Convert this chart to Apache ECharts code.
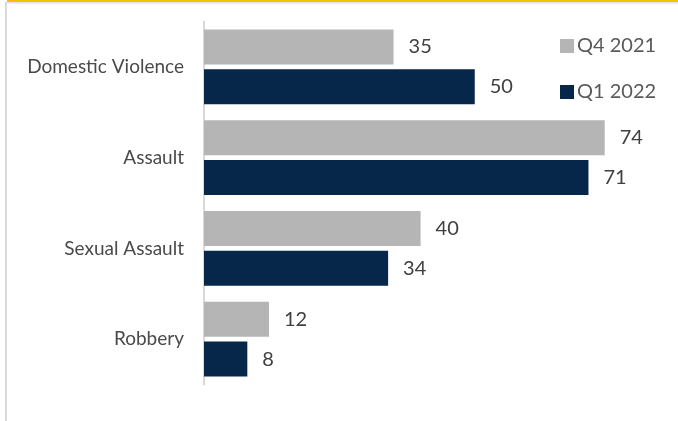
<!DOCTYPE html>
<html>
<head>
<meta charset="utf-8">
<script src="https://cdn.jsdelivr.net/npm/echarts@6/dist/echarts.min.js"></script>
<style>
  html, body { margin: 0; padding: 0; background: #fff; }
  #chart { width: 678px; height: 421px; }
</style>
</head>
<body>
<div id="chart"></div>
<script>
const categories = ["Domestic Violence", "Assault", "Sexual Assault", "Robbery"];
const seriesNames = ["Q4 2021", "Q1 2022"];
const q4_2021 = [35, 74, 40, 12];
const q1_2022 = [50, 71, 34, 8];

const FONT = "Lato";
const chart = echarts.init(document.getElementById('chart'), null, { renderer: 'canvas' });
chart.setOption({
  animation: false,
  backgroundColor: '#ffffff',
  graphic: [
    { type: 'rect', shape: { x: 7, y: 0, width: 671, height: 2 }, style: { fill: '#f2c300' } },
    { type: 'rect', shape: { x: 7, y: 2, width: 671, height: 1.5 }, style: { fill: '#e2e2e2' } },
    { type: 'rect', shape: { x: 5, y: 2, width: 2, height: 419 }, style: { fill: '#dadada' } }
  ],
  legend: {
    orient: 'vertical',
    left: 555,
    top: 31,
    itemWidth: 14,
    itemHeight: 14,
    itemGap: 26,
    icon: 'rect',
    textStyle: { fontFamily: FONT, fontSize: 20, color: '#595959', lineHeight: 20, padding: [0, 0, 0, -2] },
    data: seriesNames
  },
  grid: { left: 204, top: 21.5, bottom: 36.5, width: 433.2, containLabel: false },
  xAxis: { type: 'value', min: 0, max: 80, show: false },
  yAxis: {
    type: 'category',
    inverse: true,
    data: categories,
    axisLine: { show: true, lineStyle: { color: '#d9d9d9', width: 2 } },
    axisTick: { show: false },
    axisLabel: { fontFamily: FONT, fontSize: 19, color: '#4a4a4a', margin: 20 }
  },
  series: [
    {
      name: seriesNames[0], type: 'bar', data: q4_2021, barWidth: 35, barGap: '14%',
      itemStyle: { color: '#b5b5b5' },
      label: { show: true, position: 'right', distance: 15, fontFamily: FONT, fontSize: 20, color: '#404040' }
    },
    {
      name: seriesNames[1], type: 'bar', data: q1_2022, barWidth: 35, barGap: '14%',
      itemStyle: { color: '#06264a' },
      label: { show: true, position: 'right', distance: 15, fontFamily: FONT, fontSize: 20, color: '#404040' }
    }
  ]
});
</script>
</body>
</html>
